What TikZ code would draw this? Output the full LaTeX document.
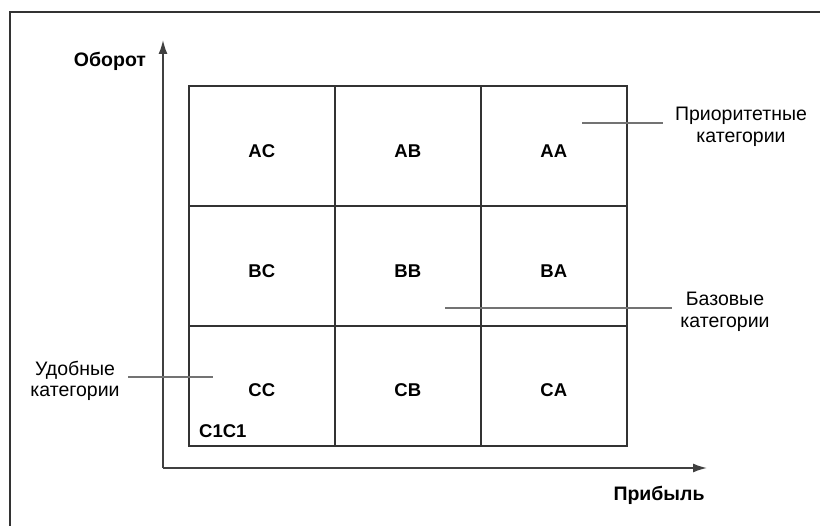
\documentclass[tikz,border=0pt]{standalone}
\usepackage{fontspec}
\setmainfont{Liberation Sans}
\usetikzlibrary{arrows.meta}
\tikzset{
  cell/.style={draw=black!80, line width=1.7pt, minimum width=146pt, minimum height=120pt,
    inner sep=0pt, anchor=north west},
  celltext/.style={font=\fontsize{18.5}{22}\selectfont\bfseries, inner sep=0pt},
  axislabel/.style={font=\fontsize{19.5}{22}\selectfont\bfseries, inner sep=0pt},
  note/.style={font=\fontsize{19.5}{21.5}\selectfont, align=center, inner sep=0pt},
  axis/.style={draw=black!75, line width=1.6pt, -{Latex[length=14pt,width=9pt]}},
  leader/.style={draw=black!55, line width=1.5pt},
  frameline/.style={draw=black!80, line width=2pt}
}
\begin{document}
\begin{tikzpicture}[x=1pt,y=-1pt]
\useasboundingbox (0,0) rectangle (820,526);
\fill[white] (0,0) rectangle (820,526);

% outer frame (left and top edges)
\coordinate (fTL) at (10,12);
\coordinate (fBL) at (10,526);
\coordinate (fTR) at (820,12);
\draw[frameline] (fBL) -- (fTL) -- (fTR);

% 3x3 grid of cells
\node[cell] (AC) at (188,85) {};
\node[cell] (AB) at (334,85) {};
\node[cell] (AA) at (480,85) {};
\node[cell] (BC) at (188,205) {};
\node[cell] (BB) at (334,205) {};
\node[cell] (BA) at (480,205) {};
\node[cell] (CC) at (188,325) {};
\node[cell] (CB) at (334,325) {};
\node[cell] (CA) at (480,325) {};

% cell captions
\node[celltext] (tAC) at ([yshift=-5pt]AC.center) {AC};
\node[celltext] (tAB) at ([yshift=-5pt]AB.center) {AB};
\node[celltext] (tAA) at ([yshift=-5pt]AA.center) {AA};
\node[celltext] (tBC) at ([yshift=-5pt]BC.center) {BC};
\node[celltext] (tBB) at ([yshift=-5pt]BB.center) {BB};
\node[celltext] (tBA) at ([yshift=-5pt]BA.center) {BA};
\node[celltext] (tCC) at ([yshift=-4pt]CC.center) {CC};
\node[celltext] (tCB) at ([yshift=-4pt]CB.center) {CB};
\node[celltext] (tCA) at ([yshift=-4pt]CA.center) {CA};
\node[celltext, anchor=west] (c1c1) at (199,431) {C1C1};

% axes
\coordinate (origin) at (163,468);
\coordinate (ytip) at (163,40);
\coordinate (xtip) at (707,468);
\draw[axis] (origin) -- (ytip);
\draw[axis] (origin) -- (xtip);
\node[axislabel] (ylab) at (110,61) {Оборот};
\node[axislabel] (xlab) at (659,495) {Прибыль};

% callouts
\node[note] (prio) at (741,127) {Приоритетные\\категории};
\coordinate (prioEnd) at (582,123);
\draw[leader] (prioEnd) -- (663,123);

\node[note] (base) at (725,312) {Базовые\\категории};
\coordinate (baseEnd) at (445,308);
\draw[leader] (baseEnd) -- (672,308);

\node[note] (conv) at (75,381) {Удобные\\категории};
\coordinate (convEnd) at (213,377);
\draw[leader] (128,377) -- (convEnd);
\end{tikzpicture}
\end{document}
